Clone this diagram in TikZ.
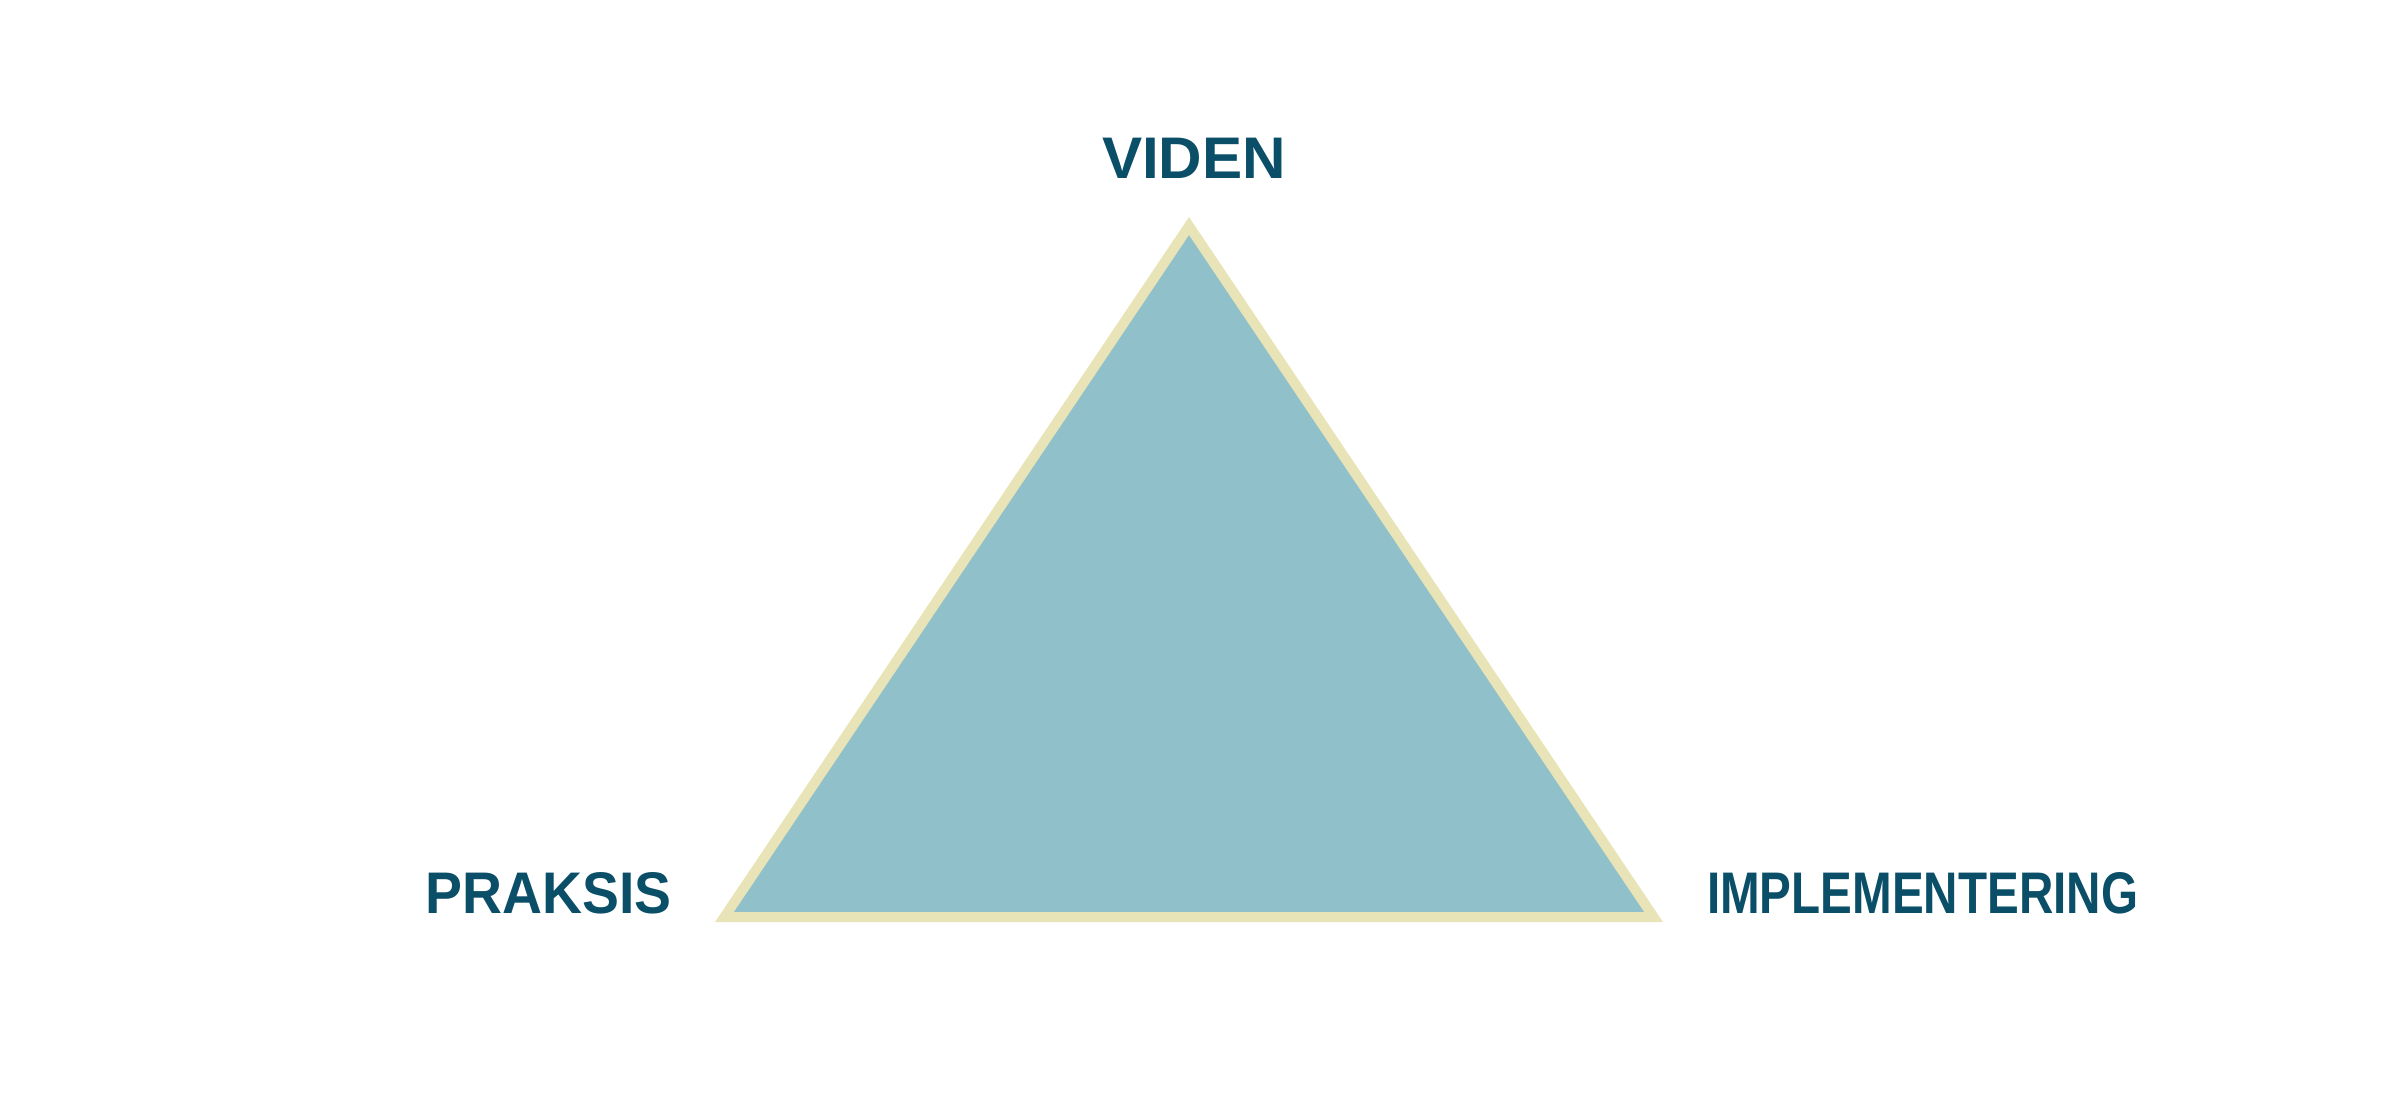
\documentclass[tikz,border=0pt]{standalone}
\usepackage{fontspec}
\setmainfont{Liberation Sans}
\definecolor{trifill}{RGB}{144,192,201}
\definecolor{triedge}{RGB}{232,228,184}
\definecolor{labelblue}{RGB}{10,78,104}
\begin{document}
\begin{tikzpicture}[x=1pt,y=-1pt,
  lbl/.style={inner sep=0pt, anchor=base, text=labelblue, font=\fontsize{58.7}{60}\selectfont\bfseries}]
\useasboundingbox (0,0) rectangle (2386,1094);
\coordinate (top) at (1189,226);
\coordinate (left) at (724.4,917);
\coordinate (right) at (1653.6,917);
\filldraw[fill=trifill, draw=triedge, line width=10pt, line join=miter] (top) -- (right) -- (left) -- cycle;
\node[lbl] (viden) at (1194,179) {\resizebox{184pt}{\height}{VIDEN}};
\node[lbl] (praksis) at (548.5,913) {\resizebox{246pt}{\height}{PRAKSIS}};
\node[lbl] (impl) at (1922.5,913) {\resizebox{431pt}{\height}{IMPLEMENTERING}};
\end{tikzpicture}
\end{document}
